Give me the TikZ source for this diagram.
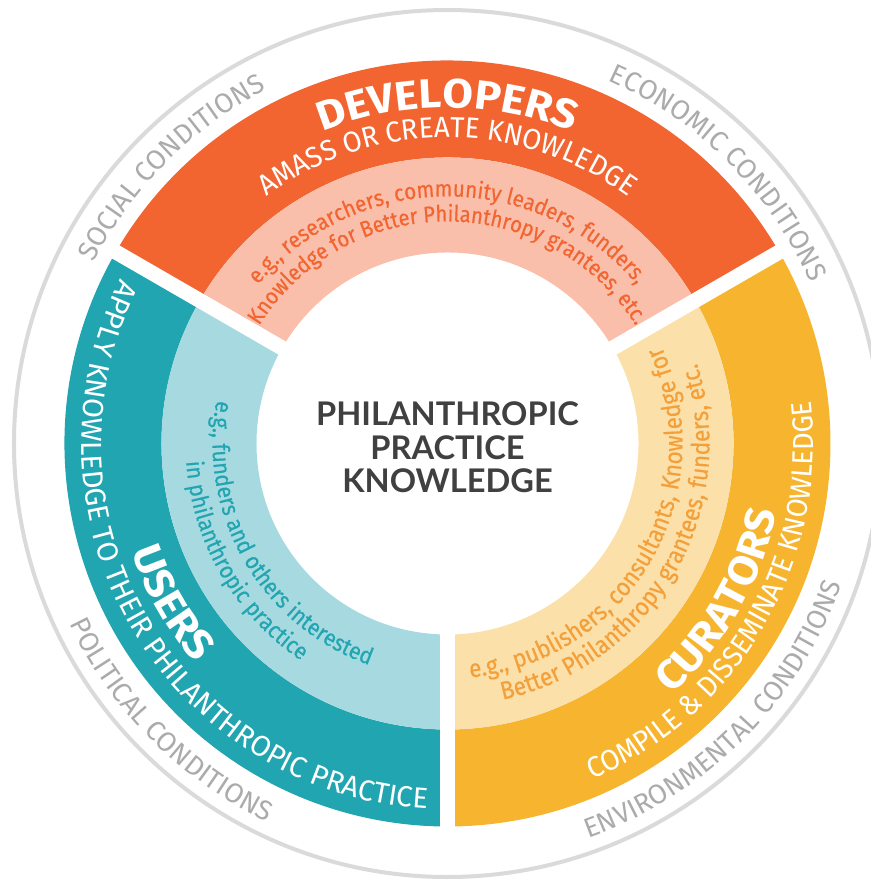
\documentclass[tikz,border=0pt]{standalone}
\usepackage{fontspec}
\setmainfont{Fira Sans}
\newfontfamily\centrefamily{Lato}
\newfontfamily\titlefamily[FakeStretch=1.08]{Fira Sans}
\newfontfamily\subfamily[FakeStretch=0.95]{Fira Sans}
\newfontfamily\egfamily[FakeStretch=0.9,FakeBold=0.4]{Fira Sans}
\usetikzlibrary{decorations.text}

\definecolor{devorange}{HTML}{F26531}
\definecolor{devlight}{HTML}{F9BFAB}
\definecolor{userteal}{HTML}{21A5B1}
\definecolor{userlight}{HTML}{A7DAE0}
\definecolor{curyellow}{HTML}{F7B52F}
\definecolor{curlight}{HTML}{FCE0A9}
\definecolor{curtext}{HTML}{F4A03A}
\definecolor{condgrey}{HTML}{DADADA}
\definecolor{condtext}{HTML}{ABABAB}
\definecolor{centregrey}{HTML}{404041}

\newcommand\ringtitle{\titlefamily\fontsize{20.5}{20.5}\selectfont\bfseries}
\newcommand\ringsub{\subfamily\fontsize{14.5}{14.5}\selectfont}
\newcommand\ringeg{\egfamily\fontsize{11.8}{11.8}\selectfont}
\newcommand\condlabel{\fontsize{13.75}{13.75}\selectfont}

\begin{document}
\begin{tikzpicture}[x=0.5pt,y=0.5pt,
  arctext/.style 2 args={decorate,decoration={text along path,text align=center,text color=#1,text={#2}}}]
\clip (-447.5,-436.5) rectangle (423.5,443.5);
%% conditions circle
\draw[line width=2pt,condgrey] (0,0) circle (433.5);
%% developers
\fill[devorange] (30:383) arc[start angle=30,end angle=150,radius=383] -- (150:286) arc[start angle=150,end angle=30,radius=286] -- cycle;
\fill[devlight] (30:286) arc[start angle=30,end angle=150,radius=286] -- (150:191) arc[start angle=150,end angle=30,radius=191] -- cycle;
%% users
\fill[userteal] (150:383) arc[start angle=150,end angle=270,radius=383] -- (270:286) arc[start angle=270,end angle=150,radius=286] -- cycle;
\fill[userlight] (150:286) arc[start angle=150,end angle=270,radius=286] -- (270:191) arc[start angle=270,end angle=150,radius=191] -- cycle;
%% curators
\fill[curyellow] (-90:383) arc[start angle=-90,end angle=30,radius=383] -- (30:286) arc[start angle=30,end angle=-90,radius=286] -- cycle;
\fill[curlight] (-90:286) arc[start angle=-90,end angle=30,radius=286] -- (30:191) arc[start angle=30,end angle=-90,radius=191] -- cycle;
%% white gaps between the segments
\foreach \a in {30,150,270}
  \draw[white,line width=7.5pt] (\a:185) -- (\a:390);

%% developers text (clockwise)
\path[arctext={white}{|\ringtitle|DEVELOPERS}] (160:336) arc[start angle=160,end angle=20,radius=336];
\path[arctext={white}{|\ringsub|AMASS OR CREATE KNOWLEDGE}] (160:306) arc[start angle=160,end angle=20,radius=306];
\path[arctext={devorange}{|\ringeg\fontsize{11.5}{11.5}\selectfont|e.g., researchers, community leaders, funders,}] (160:247) arc[start angle=160,end angle=20,radius=247];
\path[arctext={devorange}{|\ringeg\fontsize{11.3}{11.3}\selectfont|Knowledge for Better Philanthropy grantees, etc.}] (160:222) arc[start angle=160,end angle=20,radius=222];

%% users text (counter-clockwise)
\path[arctext={white}{|\ringtitle|USERS}] (140:334) arc[start angle=140,end angle=280,radius=334];
\path[arctext={white}{|\fontsize{14.5}{14.5}\selectfont|APPLY KNOWLEDGE TO THEIR PHILANTHROPIC PRACTICE}] (140:366) arc[start angle=140,end angle=280,radius=366];
\path[arctext={userteal}{|\ringeg|e.g., funders and others interested}] (140:235) arc[start angle=140,end angle=280,radius=235];
\path[arctext={userteal}{|\ringeg|in philanthropic practice}] (140:262) arc[start angle=140,end angle=280,radius=262];

%% curators text (counter-clockwise)
\path[arctext={white}{|\ringtitle|CURATORS}] (-100:336) arc[start angle=-100,end angle=40,radius=336];
\path[arctext={white}{|\ringsub|COMPILE {\&} DISSEMINATE KNOWLEDGE}] (-100:366) arc[start angle=-100,end angle=40,radius=366];
\path[arctext={curtext}{|\ringeg\fontsize{12.6}{12.6}\selectfont|e.g., publishers, consultants, Knowledge for}] (-100:235) arc[start angle=-100,end angle=40,radius=235];
\path[arctext={curtext}{|\ringeg\fontsize{12.6}{12.6}\selectfont|Better Philanthropy grantees, funders, etc.}] (-100:262) arc[start angle=-100,end angle=40,radius=262];

%% conditions
\path[arctext={condtext}{|\condlabel|SOCIAL CONDITIONS}] (205:397) arc[start angle=205,end angle=65,radius=397];
\path[arctext={condtext}{|\condlabel|ECONOMIC CONDITIONS}] (115:397) arc[start angle=115,end angle=-25,radius=397];
\path[arctext={condtext}{|\condlabel|POLITICAL CONDITIONS}] (155:419) arc[start angle=155,end angle=295,radius=419];
\path[arctext={condtext}{|\condlabel|ENVIRONMENTAL CONDITIONS}] (-115:419) arc[start angle=-115,end angle=25,radius=419];

%% centre
\node[align=center,text=centregrey,font=\centrefamily\bfseries\fontsize{16.3}{16.75}\selectfont] (centre) at (0,-4) {PHILANTHROPIC\\PRACTICE\\KNOWLEDGE};
\end{tikzpicture}
\end{document}
